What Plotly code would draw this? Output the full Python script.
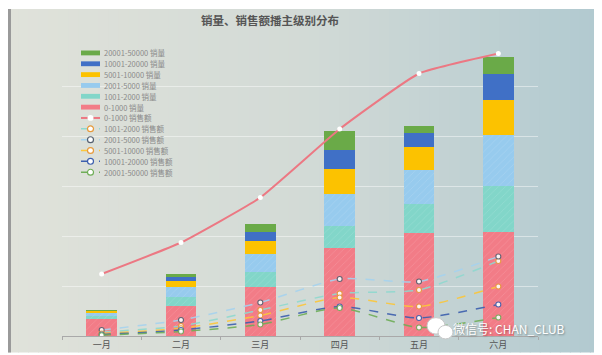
import plotly.graph_objects as go

# ---------------- data ----------------
months = ["一月", "二月", "三月", "四月", "五月", "六月"]

bar_names = ["0-1000 销量", "1001-2000 销量", "2001-5000 销量",
             "5001-10000 销量", "10001-20000 销量", "20001-50000 销量"]
qty_0_1000 = [350, 610, 980, 1770, 2060, 2090]
qty_1001_2000 = [60, 180, 300, 440, 580, 920]
qty_2001_5000 = [50, 190, 360, 630, 690, 1010]
qty_5001_10000 = [40, 130, 260, 500, 450, 710]
qty_10001_20000 = [10, 80, 180, 390, 290, 520]
qty_20001_50000 = [10, 50, 170, 370, 140, 340]

line_names = ["0-1000 销售额", "1001-2000 销售额", "2001-5000 销售额",
              "5001-10000 销售额", "10001-20000 销售额", "20001-50000 销售额"]
amt_0_1000 = [1240, 1870, 2770, 4140, 5250, 5650]
amt_1001_2000 = [80, 200, 520, 850, 920, 1500]
amt_2001_5000 = [120, 320, 670, 1140, 1090, 1590]
amt_5001_10000 = [50, 155, 410, 770, 590, 990]
amt_10001_20000 = [30, 120, 300, 590, 360, 630]
amt_20001_50000 = [15, 90, 230, 560, 170, 370]

title_text = "销量、销售额播主级别分布"
watermark_text = "微信号: CHAN_CLUB"

# ---------------- styles ----------------
bar_colors = ["#f27c87", "#82d6c9", "#97cbee", "#fcc200", "#4070c6", "#6aaa48"]
bar_hatched = [True, True, True, False, False, False]
line_colors = ["#ec7883", "#8fd9cf", "#a6d3ef", "#fcc73a", "#3c5fae", "#6fae58"]
line_marker_rings = ["#ffffff", "#e69a3c", "#556070", "#e69a3c", "#3c5fae", "#6fae58"]

bar_series = [qty_0_1000, qty_1001_2000, qty_2001_5000,
              qty_5001_10000, qty_10001_20000, qty_20001_50000]
line_series = [amt_0_1000, amt_1001_2000, amt_2001_5000,
               amt_5001_10000, amt_10001_20000, amt_20001_50000]

W, H = 602, 355
ML, MR, MT, MB = 54, 72, 28, 17
PW, PH = W - ML - MR, H - MT - MB


def px_x(p):
    return (p - ML) / PW


def px_y(p):
    return (H - MB - p) / PH


fig = go.Figure()

for name, vals, col, hatch in zip(bar_names, bar_series, bar_colors, bar_hatched):
    marker = dict(color=col, line=dict(width=0))
    if hatch:
        marker["pattern"] = dict(shape="/", fgcolor="rgba(255,255,255,0.35)",
                                 size=5, solidity=0.12, fillmode="overlay")
    fig.add_trace(go.Bar(x=months, y=vals, name=name, marker=marker,
                         showlegend=False, hoverinfo="skip"))

for i, (name, vals, col, ring) in enumerate(zip(line_names, line_series,
                                                line_colors, line_marker_rings)):
    if i == 0:
        fig.add_trace(go.Scatter(
            x=months, y=vals, name=name, mode="lines+markers",
            line=dict(color=col, width=2, shape="spline", smoothing=0.4),
            marker=dict(color="white", size=5, line=dict(width=0)),
            showlegend=False))
    else:
        fig.add_trace(go.Scatter(
            x=months, y=vals, name=name, mode="lines+markers",
            line=dict(color=col, width=1.5, dash="dash", shape="spline", smoothing=0.6),
            marker=dict(color="white", size=5, line=dict(width=1.1, color=ring)),
            opacity=0.9, showlegend=False))

# ---------------- background gradient ----------------
shapes = []
N = 60
stops = [(0.0, (224, 226, 218)), (0.5, (210, 218, 214)), (1.0, (176, 201, 208))]


def grad(t):
    for (t0, c0), (t1, c1) in zip(stops[:-1], stops[1:]):
        if t <= t1:
            f = (t - t0) / (t1 - t0)
            return tuple(int(round(a + (b - a) * f)) for a, b in zip(c0, c1))
    return stops[-1][1]


for k in range(N):
    x0p = W * k / N
    x1p = W * (k + 1) / N + 1
    c = grad((k + 0.5) / N)
    shapes.append(dict(type="rect", xref="paper", yref="paper",
                       x0=px_x(x0p), x1=px_x(x1p), y0=px_y(H), y1=px_y(0),
                       fillcolor="rgb(%d,%d,%d)" % c, line=dict(width=0), layer="below"))
shapes.append(dict(type="rect", xref="paper", yref="paper",
                   x0=px_x(0), x1=px_x(3), y0=px_y(H), y1=px_y(0),
                   fillcolor="#9a9a9a", line=dict(width=0), layer="below"))

# ---------------- custom legend ----------------
annotations = []
leg_names = bar_names[::-1] + line_names
row0, rowstep = 45.5, 11.2
sw_x0, sw_x1, txt_x = 73, 92, 94
for r, name in enumerate(leg_names):
    yp = row0 + r * rowstep
    if r < 6:
        bi = 5 - r
        shapes.append(dict(type="rect", xref="paper", yref="paper",
                           x0=px_x(sw_x0), x1=px_x(sw_x1),
                           y0=px_y(yp + 2.5), y1=px_y(yp - 2.5),
                           fillcolor=bar_colors[bi], line=dict(width=0)))
    else:
        li = r - 6
        shapes.append(dict(type="line", xref="paper", yref="paper",
                           x0=px_x(sw_x0), x1=px_x(sw_x1), y0=px_y(yp), y1=px_y(yp),
                           line=dict(color=line_colors[li], width=2 if li == 0 else 1.5,
                                     dash="solid" if li == 0 else "dash")))
        cx = (sw_x0 + sw_x1) / 2
        shapes.append(dict(type="circle", xref="paper", yref="paper",
                           x0=px_x(cx - 3), x1=px_x(cx + 3),
                           y0=px_y(yp + 3), y1=px_y(yp - 3),
                           fillcolor="white",
                           line=dict(color=line_marker_rings[li], width=0 if li == 0 else 1.2)))
    annotations.append(dict(text=name, xref="paper", yref="paper",
                            x=px_x(txt_x), y=px_y(yp), xanchor="left", yanchor="middle",
                            showarrow=False,
                            font=dict(size=7.5, color="#8a8a8a", family="Noto Sans CJK SC")))

# title
annotations.append(dict(text=title_text, xref="paper", yref="paper",
                        x=px_x(262), y=px_y(11), xanchor="center", yanchor="middle",
                        showarrow=False,
                        font=dict(size=11.5, color="#555555", family="Noto Sans CJK SC",
                                  weight="bold")))

# watermark (logo + text)
shapes.append(dict(type="circle", xref="paper", yref="paper",
                   x0=px_x(419), x1=px_x(437), y0=px_y(336), y1=px_y(319),
                   fillcolor="white", line=dict(color="#c8c8c8", width=1)))
shapes.append(dict(type="circle", xref="paper", yref="paper",
                   x0=px_x(430), x1=px_x(445), y0=px_y(341), y1=px_y(327),
                   fillcolor="white", line=dict(color="#c8c8c8", width=1)))
annotations.append(dict(text=watermark_text, xref="paper", yref="paper",
                        x=px_x(444), y=px_y(330), xanchor="left", yanchor="middle",
                        showarrow=False, borderpad=0,
                        font=dict(size=12, color="white",
                                  family="Liberation Sans Narrow, Noto Sans CJK SC",
                                  shadow="1px 1px 2px rgba(0,0,0,0.35)")))

fig.update_layout(
    width=W, height=H,
    margin=dict(l=ML, r=MR, t=MT, b=MB, pad=0),
    barmode="stack", bargap=0.61,
    paper_bgcolor="rgba(0,0,0,0)", plot_bgcolor="rgba(0,0,0,0)",
    showlegend=False,
    shapes=shapes, annotations=annotations,
    xaxis=dict(type="category", range=[-0.5, 5.5], showgrid=False,
               showline=True, linecolor="#a9a9a9", linewidth=1,
               ticks="outside", tickson="boundaries", ticklen=3, tickcolor="#a9a9a9",
               tickfont=dict(size=9, color="#555555", family="Noto Sans CJK SC"),
               fixedrange=True),
    yaxis=dict(range=[0, 6000], dtick=1000, showticklabels=False,
               showgrid=True, gridcolor="rgba(255,255,255,0.45)", gridwidth=1,
               zeroline=False, fixedrange=True),
)

fig.write_html("out.html")
